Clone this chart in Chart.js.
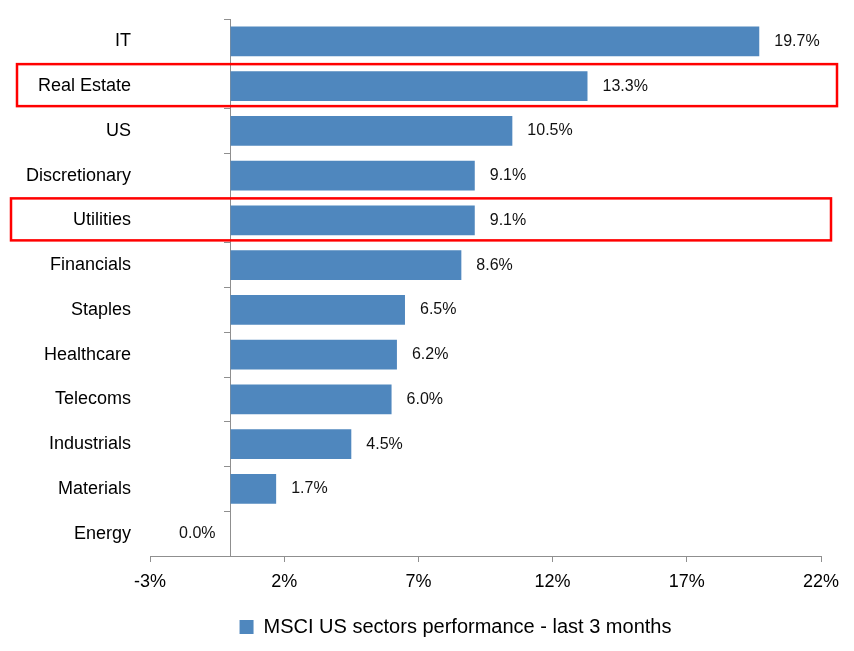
<!DOCTYPE html>
<html>
<head>
<meta charset="utf-8">
<script src="https://cdn.jsdelivr.net/npm/chart.js@4/dist/chart.umd.min.js"></script>
<style>
    body { margin: 0; background: #fff; }
    #wrap { width: 854px; height: 651px; position: relative; }
</style>
</head>
<body>
<div id="wrap"><canvas id="chartSectors"></canvas></div>
<script>
// chart data
var sectors = ["IT", "Real Estate", "US", "Discretionary", "Utilities", "Financials",
               "Staples", "Healthcare", "Telecoms", "Industrials", "Materials", "Energy"];
var perf3m = [19.7, 13.3, 10.5, 9.1, 9.1, 8.6, 6.5, 6.2, 6.0, 4.5, 1.7, 0.0];
var seriesName = "MSCI US sectors performance - last 3 months";
var highlighted = ["Real Estate", "Utilities"];

var FONT = "'Liberation Sans', Arial, sans-serif";
var AXIS_GREY = "#8F8F8F";

// value labels at the end of each bar
var barLabels = {
    id: "barLabels",
    afterDatasetsDraw: function (chart)
    {
        var ctx = chart.ctx;
        var meta = chart.getDatasetMeta(0);
        ctx.save();
        ctx.font = "16px " + FONT;
        ctx.fillStyle = "#111";
        ctx.textBaseline = "middle";
        for (var i = 0; i < meta.data.length; ++ i)
        {
            var bar = meta.data[i];
            var v = perf3m[i];
            if (v > 0)
            {
                ctx.textAlign = "left";
                ctx.fillText(v.toFixed(1) + "%", bar.x + 15, bar.y);
            } else
            {
                ctx.textAlign = "right";
                ctx.fillText(v.toFixed(1) + "%", bar.x - 15, bar.y);
            }
        }
        ctx.restore();
    }
};

// red boxes round the highlighted rows
var rowBoxes = {
    id: "rowBoxes",
    afterDraw: function (chart)
    {
        var ctx = chart.ctx;
        var y = chart.scales.y;
        var extents = { "Real Estate": [17, 837], "Utilities": [11, 831] };
        ctx.save();
        ctx.strokeStyle = "#FF0000";
        ctx.lineWidth = 2.5;
        for (var i = 0; i < highlighted.length; ++ i)
        {
            var idx = sectors.indexOf(highlighted[i]);
            var cy = y.getPixelForValue(idx) - 1;
            var ext = extents[highlighted[i]];
            ctx.strokeRect(ext[0], cy - 21, ext[1] - ext[0], 42);
        }
        ctx.restore();
    }
};

// the legend sits a bit right of centre in the original
var legendShift = {
    id: "legendShift",
    afterLayout: function (chart)
    {
        chart.legend.left += 45;
        chart.legend.right += 45;
    }
};

var config = {
    type: "bar",
    data: {
        labels: sectors,
        datasets: [{
            label: seriesName,
            data: perf3m,
            backgroundColor: "#4F87BE",
            borderWidth: 0,
            categoryPercentage: 1,
            barPercentage: 0.66
        }]
    },
    options: {
        indexAxis: "y",
        responsive: true,
        maintainAspectRatio: false,
        animation: false,
        layout: { padding: { top: 19, right: 33, bottom: 4, left: 0 } },
        scales: {
            x: {
                min: -3,
                max: 22,
                ticks: {
                    stepSize: 5,
                    color: "#000",
                    padding: 9,
                    maxRotation: 0,
                    font: { family: FONT, size: 18 },
                    callback: function (v) { return v + "%"; }
                },
                grid: { drawOnChartArea: false, tickLength: 6, color: AXIS_GREY },
                border: { color: AXIS_GREY },
                afterFit: function (scale) { scale.height = 51; }
            },
            y: {
                ticks: {
                    color: "#000",
                    padding: 0,
                    font: { family: FONT, size: 18 }
                },
                // hidden ticks only used as the gap between labels and plot
                grid: { display: false, drawTicks: true, tickLength: 19 },
                border: { display: false },
                afterFit: function (scale) { scale.width = 150; }
            },
            // vertical axis line at zero
            y2: {
                type: "category",
                axis: "y",
                position: { x: 0 },
                offset: true,
                ticks: { display: false },
                grid: { offset: true, drawOnChartArea: false, tickLength: 6, color: AXIS_GREY },
                border: { color: AXIS_GREY }
            }
        },
        plugins: {
            legend: {
                position: "bottom",
                labels: {
                    boxWidth: 14,
                    boxHeight: 14,
                    color: "#000",
                    font: { family: FONT, size: 20 }
                }
            },
            tooltip: { enabled: false }
        }
    },
    plugins: [barLabels, rowBoxes, legendShift]
};

new Chart(document.getElementById("chartSectors").getContext("2d"), config);
</script>
</body>
</html>
